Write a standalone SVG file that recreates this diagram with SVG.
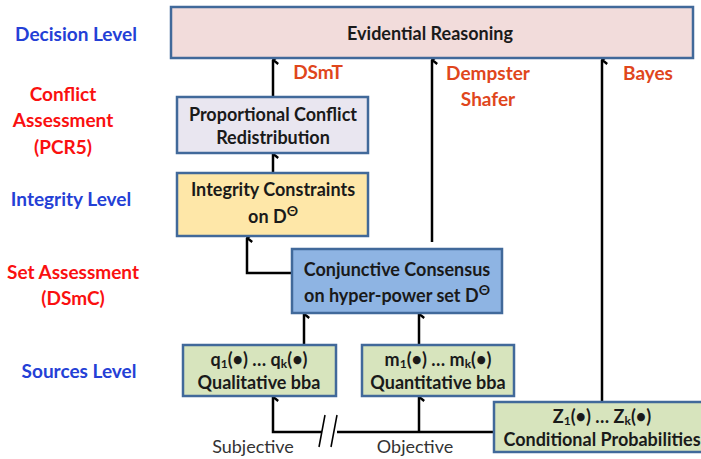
<svg xmlns="http://www.w3.org/2000/svg" width="701" height="459" viewBox="0 0 701 459">
<defs>
<marker id="arr" viewBox="0 0 12 12" refX="6" refY="1.3" markerWidth="12" markerHeight="12" markerUnits="userSpaceOnUse" orient="auto-start-reverse">
<path d="M2,6.5 L6,1.5 L10,6.5" fill="none" stroke="#000" stroke-width="2.4"/>
</marker>
<style>
.box{stroke:#41699a;stroke-width:2.5}
.t{font-family:Lato,"Liberation Sans",sans-serif;font-weight:bold;font-size:18px;fill:#1a1a1a;text-anchor:middle}
.lb{font-family:Lato,"Liberation Sans",sans-serif;font-weight:bold;font-size:19px;fill:#2440d6;text-anchor:middle}
.lr{font-family:Lato,"Liberation Sans",sans-serif;font-weight:bold;font-size:19px;fill:#fa1010;text-anchor:middle}
.lo{font-family:Lato,"Liberation Sans",sans-serif;font-weight:bold;font-size:19px;fill:#e0461c;text-anchor:middle}
.n{font-family:Lato,"Liberation Sans",sans-serif;font-size:18px;fill:#333;text-anchor:middle}
.c{fill:none;stroke:#000;stroke-width:2.5}
.sub{font-size:12px}
</style>
</defs>
<rect width="701" height="459" fill="#fff"/>

<g id="labels">
<text class="lb" x="76" y="41">Decision Level</text>
<text class="lr" x="63" y="101">Conflict</text>
<text class="lr" x="63" y="127">Assessment</text>
<text class="lr" x="63" y="154">(PCR5)</text>
<text class="lb" x="71" y="206">Integrity Level</text>
<text class="lr" x="73" y="279">Set Assessment</text>
<text class="lr" x="73" y="305">(DSmC)</text>
<text class="lb" x="79" y="378">Sources Level</text>
</g>

<g id="connectors">
<line class="c" x1="273" y1="97" x2="273" y2="60" marker-end="url(#arr)"/>
<line class="c" x1="273" y1="173" x2="273" y2="154" marker-end="url(#arr)"/>
<line class="c" x1="432" y1="242" x2="432" y2="60" marker-end="url(#arr)"/>
<line class="c" x1="602" y1="402" x2="602" y2="60" marker-end="url(#arr)"/>
<polyline class="c" points="292,273 247,273 247,238" marker-end="url(#arr)"/>
<line class="c" x1="304" y1="345" x2="304" y2="314" marker-end="url(#arr)"/>
<line class="c" x1="419" y1="345" x2="419" y2="314" marker-end="url(#arr)"/>
<polyline class="c" points="322,432 273,432 273,397" marker-end="url(#arr)"/>
<line class="c" x1="494" y1="432" x2="337" y2="432"/>
<line class="c" x1="419" y1="432" x2="419" y2="397" marker-end="url(#arr)"/>
<line stroke="#000" stroke-width="1.5" x1="325" y1="415" x2="319" y2="447"/>
<line stroke="#000" stroke-width="1.5" x1="337" y1="415" x2="331" y2="447"/>
<text class="lo" x="318" y="79">DSmT</text>
<text class="lo" x="488" y="80">Dempster</text>
<text class="lo" x="488" y="106">Shafer</text>
<text class="lo" x="648" y="80">Bayes</text>
<text class="n" x="253" y="453">Subjective</text>
<text class="n" x="415" y="453">Objective</text>
</g>

<g id="decision">
<rect class="box" x="171" y="7" width="522" height="51" fill="#f2dcdb"/>
<text class="t" x="430" y="40">Evidential Reasoning</text>
</g>

<g id="pcr">
<rect class="box" x="177" y="97" width="191" height="56" fill="#e9e6f0"/>
<text class="t" x="273" y="121">Proportional Conflict</text>
<text class="t" x="273" y="144">Redistribution</text>
</g>

<g id="integrity">
<rect class="box" x="177" y="173" width="191" height="63" fill="#fee7a8"/>
<text class="t" x="273" y="196">Integrity Constraints</text>
<text class="t" x="273" y="223">on D<tspan dy="-7" font-size="14">Θ</tspan></text>
</g>

<g id="conjunctive">
<rect class="box" x="292" y="249" width="210" height="64" fill="#8eb4e3"/>
<text class="t" x="397" y="276">Conjunctive Consensus</text>
<text class="t" x="397" y="302">on hyper-power set D<tspan dy="-7" font-size="14">Θ</tspan></text>
</g>

<g id="qualitative">
<rect class="box" x="183" y="345" width="153" height="51" fill="#d7e4bd"/>
<text class="t" x="259" y="366">q<tspan class="sub" dy="2">1</tspan><tspan dy="-2">(•) … q</tspan><tspan class="sub" dy="2">k</tspan><tspan dy="-2">(•)</tspan></text>
<text class="t" x="259" y="389">Qualitative bba</text>
</g>

<g id="quantitative">
<rect class="box" x="362" y="345" width="152" height="51" fill="#d7e4bd"/>
<text class="t" x="438" y="366">m<tspan class="sub" dy="2">1</tspan><tspan dy="-2">(•) … m</tspan><tspan class="sub" dy="2">k</tspan><tspan dy="-2">(•)</tspan></text>
<text class="t" x="438" y="389">Quantitative bba</text>
</g>

<g id="conditional">
<rect class="box" x="494" y="402" width="215" height="50" fill="#d7e4bd"/>
<text class="t" x="602" y="423">Z<tspan class="sub" dy="2">1</tspan><tspan dy="-2">(•) … Z</tspan><tspan class="sub" dy="2">k</tspan><tspan dy="-2">(•)</tspan></text>
<text class="t" x="602" y="446">Conditional Probabilities</text>
</g>
</svg>
